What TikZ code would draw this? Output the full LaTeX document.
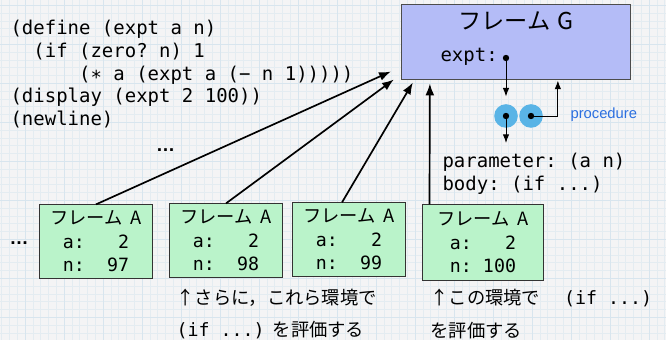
\documentclass[tikz,border=0pt]{standalone}
\usepackage{fontspec}
\setmainfont{Liberation Sans}
\setmonofont{DejaVu Sans Mono}
\newfontfamily\jpfont{Noto Sans CJK JP}
\usetikzlibrary{arrows.meta,positioning,calc}

\definecolor{paper}{HTML}{F4F4F5}
\definecolor{gridminor}{HTML}{E4ECF1}
\definecolor{gridmajor}{HTML}{D8E5EE}
\definecolor{frameGfill}{HTML}{B4BCF7}
\definecolor{frameAfill}{HTML}{BAF3CA}
\definecolor{cellblue}{HTML}{5AB4E6}
\definecolor{procblue}{HTML}{2B6FE0}

\newcommand{\codesize}{\fontsize{13.5}{16.1}\selectfont}
\newcommand{\boxsize}{\fontsize{13}{16.7}\selectfont}

\begin{document}
\begin{tikzpicture}[
  x=0.025cm, y=-0.025cm,
  frameA/.style={rectangle, draw=black!80, line width=0.7pt, fill=frameAfill, minimum width=2.83cm, minimum height=1.83cm, align=center, inner sep=2pt, font=\ttfamily\boxsize},
  frameG/.style={rectangle, draw=black!70, line width=0.7pt, fill=frameGfill, minimum width=5.73cm, minimum height=1.85cm},
  cell/.style={circle, fill=cellblue, minimum size=0.59cm, inner sep=0pt},
  refdot/.style={circle, fill=black, minimum size=0.16cm, inner sep=0pt, outer sep=0pt},
  code/.style={font=\ttfamily\codesize, align=left, inner sep=0pt},
  note/.style={font=\jpfont\fontsize{13}{22.8}\selectfont, align=left, inner sep=0pt},
  link/.style={->, line width=1.2pt},
  >=Latex, thick
]
\useasboundingbox (0,0) rectangle (666,340);

% Grid paper
\fill[paper] (0,0) rectangle (666,340);
\foreach \i in {0,...,85} \draw[gridminor, line width=0.35pt] ({1.6+\i*7.8},0) -- ++(0,340);
\foreach \i in {0,...,43} \draw[gridminor, line width=0.35pt] (0,{5.3+\i*7.8}) -- ++(666,0);
\foreach \i in {0,...,16} \draw[gridmajor, line width=0.45pt] ({25+\i*39},0) -- ++(0,340);
\foreach \i in {0,...,8} \draw[gridmajor, line width=0.45pt] (0,{5.3+\i*39}) -- ++(666,0);

% Program
\node[code, anchor=north west] (prog) at (10,20) {(define (expt a n)\\
~~(if (zero? n) 1\\
~~~~~~(∗ a (expt a (− n 1)))))\\
(display (expt 2 100))\\
(newline)};
\node[font=\bfseries\fontsize{13.5}{16}\selectfont] (dotsA) at (165.5,150) {…};

% Global frame
\node[frameG] (G) at (516,42) {};
\node[font=\jpfont\fontsize{16.5}{18}\selectfont] (Gtitle) at (516,21) {フレーム\hspace{0.3em}G};
\node[font=\ttfamily\codesize, anchor=west, inner sep=0pt] (expt) at (440,57) {expt:};
\node[refdot] (ptr) at (506,58) {};

% Procedure object
\node[cell] (lc) at (506,116) {};
\node[cell] (rc) at (531,116) {};
\node[refdot] (lcdot) at (506,116) {};
\node[refdot] (rcdot) at (531,116) {};
\node[anchor=west, text=procblue, font=\fontsize{10.5}{12}\selectfont, inner sep=0pt] (proc) at (570,115) {procedure};
\node[code, anchor=west] (param) at (442,173.5) {parameter: (a n)\\body: (if ...)};

\draw[->, line width=0.7pt] (ptr.center) -- ($(lc.north)+(0,-7)$);
\draw[->, line width=0.7pt] (lcdot.center) -- ++(0,27);
\draw[->, line width=0.7pt] (rcdot.center) -| ($(G.south west)+(157,1)$);

% Frames for each call
\node[frameA] (A1) at (96,241.5) {{\jpfont フレーム\hspace{0.45em}A}\\a:~~~2\\n:~~97};
\node[frameA] (A2) at (226,240.5) {{\jpfont フレーム\hspace{0.45em}A}\\a:~~~2\\n:~~98};
\node[frameA] (A3) at (349,239.5) {{\jpfont フレーム\hspace{0.45em}A}\\a:~~~2\\n:~~99};
\node[frameA, minimum width=3cm, minimum height=1.88cm] (A4) at (483,242.5) {{\jpfont フレーム\hspace{0.45em}A}\\a:~~~2\\n:~100};
\node[font=\bfseries\fontsize{13.5}{16}\selectfont] (dotsB) at (19,243) {…};

% Links to the global frame
\draw[link] (A1.north) -- ($(G.south west)+(-10,-8)$);
\draw[link] (A2.north) -- ($(G.south west)+(-7,0)$);
\draw[link] ($(A3.north)+(-7,0)$) -- ($(G.south west)+(12,3)$);
\draw[link] ($(A4.north west)+(7,0)$) -- ($(G.south west)+(29,4)$);

% Notes
\node[note, anchor=west] (note1) at (176,314) {↑さらに，これら環境で\\{\ttfamily (if ...)}\hspace{0.45em}を評価する};
\node[note, anchor=west] (note2) at (430,314) {↑この環境で\hspace{1.3em}{\ttfamily (if ...)}\\を評価する};

\end{tikzpicture}
\end{document}
